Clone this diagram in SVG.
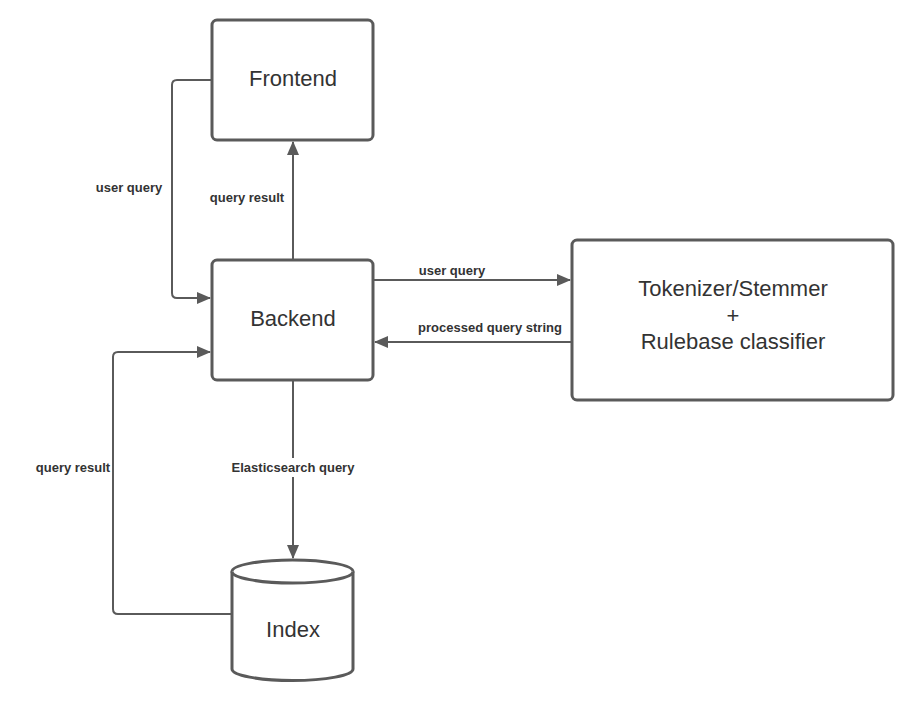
<svg xmlns="http://www.w3.org/2000/svg" width="922" height="711" viewBox="0 0 922 711">
<style>
.box{fill:#fff;stroke:#5a5a5a;stroke-width:3}
.ln{fill:none;stroke:#5a5a5a;stroke-width:2}
.t{font-family:"Liberation Sans",Arial,sans-serif;font-size:22px;fill:#333;text-anchor:middle}
.l{font-family:"Liberation Sans",Arial,sans-serif;font-size:13px;font-weight:bold;fill:#333;text-anchor:middle}
</style>
<defs>
<marker id="ah" viewBox="0 0 14 14" refX="13" refY="7" markerWidth="14" markerHeight="14" markerUnits="userSpaceOnUse" orient="auto">
<path d="M0,1 L14,7 L0,13 Z" fill="#5a5a5a"/>
</marker>
</defs>
<rect width="922" height="711" fill="#fff"/>
<g id="connectors">
<path class="ln" d="M212,80 H177 Q172,80 172,85 V293 Q172,298 177,298 H210" marker-end="url(#ah)"/>
<path class="ln" d="M293,260 V142" marker-end="url(#ah)"/>
<path class="ln" d="M373,280 H570" marker-end="url(#ah)"/>
<path class="ln" d="M572,342 H375" marker-end="url(#ah)"/>
<path class="ln" d="M293,380 V558" marker-end="url(#ah)"/>
<path class="ln" d="M232,614 H118 Q113,614 113,609 V357 Q113,352 118,352 H210" marker-end="url(#ah)"/>
<text class="l" x="129" y="192">user query</text>
<text class="l" x="247" y="202">query result</text>
<text class="l" x="452" y="275">user query</text>
<text class="l" x="490" y="332">processed query string</text>
<rect x="226" y="458" width="134" height="19" fill="#fff"/>
<text class="l" x="293" y="472">Elasticsearch query</text>
<text class="l" x="73" y="472">query result</text>
</g>
<g id="frontend">
<rect class="box" x="212" y="20" width="161" height="120" rx="5"/>
<text class="t" x="293" y="86">Frontend</text>
</g>
<g id="backend">
<rect class="box" x="212" y="260" width="161" height="120" rx="5"/>
<text class="t" x="293" y="326">Backend</text>
</g>
<g id="tokenizer">
<rect class="box" x="572" y="240" width="321" height="160" rx="5"/>
<text class="t" x="733" y="296">Tokenizer/Stemmer</text>
<text class="t" x="733" y="323">+</text>
<text class="t" x="733" y="349">Rulebase classifier</text>
</g>
<g id="index">
<path class="box" d="M232,571.5 V669 A60.5,11.5 0 0 0 353,669 V571.5 A60.5,11.5 0 0 0 232,571.5 Z"/>
<path class="box" d="M232,571.5 A60.5,11.5 0 0 0 353,571.5" fill="none"/>
<text class="t" x="293" y="637">Index</text>
</g>
</svg>
